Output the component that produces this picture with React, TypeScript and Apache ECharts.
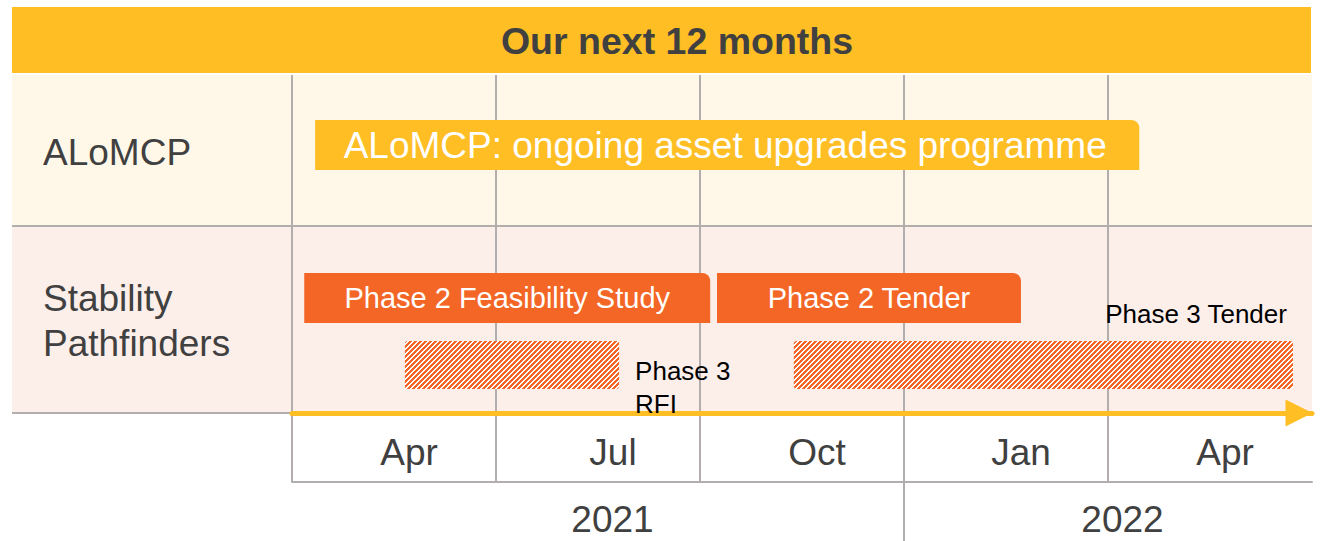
import React, { useEffect, useRef } from "react";
import * as echarts from "echarts";

// ---- data ----
// months are counted from 1 April 2021 (0) to 1 July 2022 (15)
const MONTH_LABELS = ["Apr", "Jul", "Oct", "Jan", "Apr"];
const YEAR_LABELS = ["2021", "2022"];
const YEAR_LABEL_AT = [4.5, 12]; // middle of each year's span on the axis
const YEAR_BREAK_AT = [9]; // 1 Jan 2022
const ROW_LABELS = ["ALoMCP", "Stability\nPathfinders"];
const TITLE = "Our next 12 months";

const TASK_NAMES = [
  "ALoMCP: ongoing asset upgrades programme",
  "Phase 2 Feasibility Study",
  "Phase 2 Tender",
  "Phase 3\nRFI",
  "Phase 3 Tender",
];
const TASK_START = [0.34, 0.18, 6.25, 1.66, 7.38];
const TASK_END = [12.46, 6.15, 10.72, 4.81, 14.72];
const TASK_LANE = [0, 1, 1, 2, 2];
const TASK_KIND = ["yellow", "orange", "orange", "hatch", "hatch"];

// ---- layout / style ----
const YELLOW = "#FEBE24";
const ORANGE = "#F36625";
const CREAM = "#FFF8E9";
const PINK = "#FCEEE9";
const GRID_GRAY = "#B3AEAE";
const TEXT_GRAY = "#404040";
const FONT = "'Liberation Sans', Arial, sans-serif";
const LANE_Y = [70, 223, 290]; // lane centres in lane-axis units (0 = top of grid)
const LABEL_PLACE = ["inside", "inside", "inside", "right", "aboveRight"];

function makeHatch() {
  const p = 5;
  const c = document.createElement("canvas");
  c.width = p;
  c.height = p;
  const ctx = c.getContext("2d")!;
  const img = ctx.createImageData(p, p);
  for (let y = 0; y < p; y++) {
    for (let x = 0; x < p; x++) {
      const on = (x + y) % p < 3;
      const o = (y * p + x) * 4;
      img.data[o] = on ? 0xf3 : 255;
      img.data[o + 1] = on ? 0x66 : 255;
      img.data[o + 2] = on ? 0x25 : 255;
      img.data[o + 3] = 255;
    }
  }
  ctx.putImageData(img, 0, 0);
  return { image: c.toDataURL(), repeat: "repeat", imageWidth: p, imageHeight: p };
}

export default function App() {
  const ref = useRef<HTMLDivElement>(null);
  useEffect(() => {
    if (!ref.current) return;
    const chart = echarts.init(ref.current, undefined, { renderer: "svg" });
    const hatch = makeHatch();

    const data = TASK_START.map((s, i) => [s, TASK_END[i], LANE_Y[TASK_LANE[i]]]);

    const option: any = {
      animation: false,
      grid: { left: 292, right: 13, top: 75, bottom: 59, containLabel: false },
      xAxis: [
        {
          type: "value",
          min: 0,
          max: 15,
          interval: 3,
          position: "bottom",
          axisLine: { show: true, onZero: false, lineStyle: { color: GRID_GRAY, width: 2 } },
          axisTick: { show: false },
          axisLabel: { show: false },
          splitLine: { show: true, showMaxLine: false, lineStyle: { color: GRID_GRAY, width: 2 } },
        },
        {
          type: "category",
          data: MONTH_LABELS,
          boundaryGap: true,
          position: "bottom",
          axisLine: { show: false, onZero: false },
          axisTick: { show: false },
          splitLine: { show: false },
          axisLabel: {
            inside: true,
            interval: 0,
            margin: 29.5,
            verticalAlign: "middle",
            padding: [0, 0, 0, 30],
            color: TEXT_GRAY,
            fontSize: 37,
            fontFamily: FONT,
          },
        },
        {
          type: "value",
          min: 0,
          max: 15,
          position: "bottom",
          axisLine: { show: false, onZero: false },
          axisTick: {
            show: true,
            customValues: YEAR_BREAK_AT,
            length: 59,
            lineStyle: { color: GRID_GRAY, width: 2 },
          },
          splitLine: { show: false },
          axisLabel: {
            customValues: YEAR_LABEL_AT,
            formatter: (v: number) => YEAR_LABELS[YEAR_LABEL_AT.indexOf(v)] ?? "",
            margin: 37,
            verticalAlign: "middle",
            padding: [0, 0, 0, 29],
            color: TEXT_GRAY,
            fontSize: 37,
            fontFamily: FONT,
          },
        },
        {
          type: "value",
          min: 0,
          max: 15,
          position: "bottom",
          offset: -69,
          axisLine: {
            show: true,
            onZero: false,
            symbol: ["none", "triangle"],
            symbolSize: [27, 27],
            symbolOffset: [0, -13],
            lineStyle: { color: YELLOW, width: 5 },
          },
          axisTick: { show: false },
          axisLabel: { show: false },
          splitLine: { show: false },
        },
      ],
      yAxis: { type: "value", min: 0, max: 407, inverse: true, show: false },
      graphic: [
        { type: "rect", z: -5, shape: { x: 12, y: 7, width: 1299, height: 66 }, style: { fill: YELLOW } },
        { type: "rect", z: -5, shape: { x: 12, y: 75, width: 1300, height: 151 }, style: { fill: CREAM } },
        { type: "rect", z: -5, shape: { x: 12, y: 227, width: 1300, height: 186 }, style: { fill: PINK } },
        { type: "line", z: -4, shape: { x1: 12, y1: 226, x2: 1312, y2: 226 }, style: { stroke: GRID_GRAY, lineWidth: 2 } },
        { type: "line", z: -4, shape: { x1: 12, y1: 413, x2: 1312, y2: 413 }, style: { stroke: GRID_GRAY, lineWidth: 2 } },
        {
          type: "text",
          z: 10,
          style: {
            text: TITLE,
            x: 677,
            y: 40.5,
            align: "center",
            verticalAlign: "middle",
            fill: TEXT_GRAY,
            font: `bold 37.5px ${FONT}`,
          },
        },
        {
          type: "text",
          z: 10,
          style: {
            text: ROW_LABELS[0],
            x: 43,
            y: 152,
            align: "left",
            verticalAlign: "middle",
            fill: TEXT_GRAY,
            font: `37px ${FONT}`,
          },
        },
        {
          type: "text",
          z: 10,
          style: {
            text: ROW_LABELS[1],
            x: 43,
            y: 321,
            align: "left",
            verticalAlign: "middle",
            lineHeight: 45.5,
            fill: TEXT_GRAY,
            font: `37px ${FONT}`,
          },
        },
      ],
      series: [
        {
          type: "custom",
          xAxisIndex: 0,
          yAxisIndex: 0,
          encode: { x: [0, 1], y: 2 },
          data,
          z: 5,
          renderItem: (params: any, api: any) => {
            const i = params.dataIndex;
            const s = api.coord([api.value(0), api.value(2)]);
            const e = api.coord([api.value(1), api.value(2)]);
            const kind = TASK_KIND[i];
            const h = kind === "hatch" ? 48 : 50;
            const x = s[0];
            const w = e[0] - s[0];
            const yc = s[1];
            const fill = kind === "yellow" ? YELLOW : kind === "orange" ? ORANGE : hatch;
            const children: any[] = [
              {
                type: "rect",
                shape: { x, y: yc - h / 2, width: w, height: h, r: kind === "hatch" ? 3 : [0, 8, 0, 0] },
                style: { fill },
              },
            ];
            const place = LABEL_PLACE[i];
            if (place === "inside") {
              children.push({
                type: "text",
                style: {
                  text: TASK_NAMES[i],
                  x: x + w / 2 - (kind === "yellow" ? 2 : 0),
                  y: yc,
                  align: "center",
                  verticalAlign: "middle",
                  fill: "#ffffff",
                  font: `${kind === "yellow" ? 37 : 29}px ${FONT}`,
                },
              });
            } else if (place === "right") {
              children.push({
                type: "text",
                style: {
                  text: TASK_NAMES[i],
                  x: x + w + 16,
                  y: yc - 10.5,
                  align: "left",
                  verticalAlign: "top",
                  lineHeight: 33,
                  fill: "#000000",
                  font: `26px ${FONT}`,
                },
              });
            } else {
              children.push({
                type: "text",
                style: {
                  text: TASK_NAMES[i],
                  x: x + w - 6,
                  y: yc - 51,
                  align: "right",
                  verticalAlign: "middle",
                  fill: "#000000",
                  font: `26px ${FONT}`,
                },
              });
            }
            return { type: "group", children };
          },
        },
      ],
    };
    chart.setOption(option);
    return () => chart.dispose();
  }, []);
  return (
    <div
      ref={ref}
      style={{ position: "fixed", left: 0, top: 0, width: 1325, height: 541, background: "#ffffff" }}
    />
  );
}
